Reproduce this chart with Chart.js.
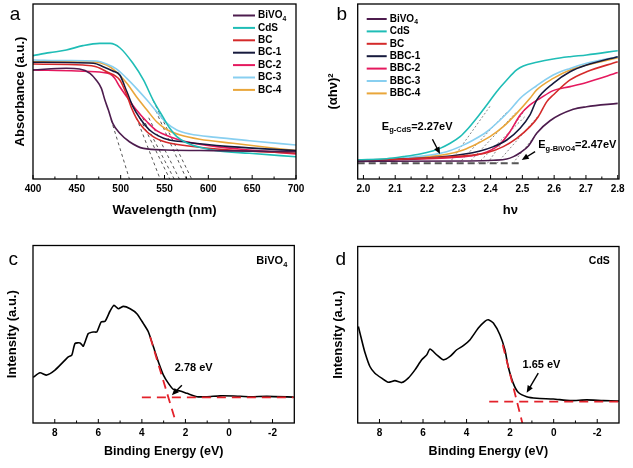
<!DOCTYPE html>
<html><head><meta charset="utf-8">
<script src="https://cdn.jsdelivr.net/npm/chart.js@4.4.0/dist/chart.umd.min.js"></script>
<style>
html,body{margin:0;padding:0;background:#fff;}
#wrap{position:relative;width:633px;height:468px;overflow:hidden;background:#fff;}
canvas{position:absolute;}
</style></head><body>
<div id="wrap">
<canvas id="ca" width="316" height="230" style="left:0;top:0;width:316px;height:230px"></canvas>
<canvas id="cb" width="316" height="230" style="left:317px;top:0;width:316px;height:230px"></canvas>
<canvas id="cc" width="316" height="238" style="left:0;top:230px;width:316px;height:238px"></canvas>
<canvas id="cd" width="316" height="238" style="left:317px;top:230px;width:316px;height:238px"></canvas>
</div>
<script>
// ================= DATA =================
// ---- Panel a : UV-vis absorbance (a.u.) vs wavelength (nm)
const aWavelengthTicks = [400, 450, 500, 550, 600, 650, 700];
const aMinorTicks = [425, 475, 525, 575, 625, 675];
const aSeriesNames = ['BiVO₄', 'CdS', 'BC', 'BC-1', 'BC-2', 'BC-3', 'BC-4'];
const aWl_BiVO4 = [400, 438, 453, 465, 472, 478, 482, 486, 491, 499, 510, 526, 552, 609, 700];
const aAbs_BiVO4 = [0.623, 0.633, 0.629, 0.604, 0.566, 0.518, 0.451, 0.394, 0.318, 0.261, 0.213, 0.175, 0.166, 0.162, 0.156];
const aWl_CdS = [400, 419, 438, 457, 476, 488, 499, 514, 526, 537, 548, 556, 564, 575, 590, 609, 647, 700];
const aAbs_CdS = [0.705, 0.722, 0.737, 0.762, 0.775, 0.775, 0.750, 0.661, 0.566, 0.451, 0.356, 0.290, 0.242, 0.207, 0.181, 0.162, 0.147, 0.127];
const aWl_BC = [400, 457, 472, 484, 499, 507, 512.5, 518, 526, 537, 552, 575, 625, 700];
const aAbs_BC = [0.657, 0.651, 0.642, 0.613, 0.566, 0.480, 0.404, 0.347, 0.290, 0.242, 0.210, 0.190, 0.166, 0.147];
const aWl_BC1 = [400, 469, 480, 491, 499, 507, 514, 522, 533, 549, 575, 625, 700];
const aAbs_BC1 = [0.667, 0.661, 0.642, 0.617, 0.594, 0.499, 0.413, 0.347, 0.280, 0.233, 0.210, 0.185, 0.162];
const aWl_BC2 = [400, 450, 480, 488, 493, 499, 507, 518, 530, 541, 556, 575, 609, 647, 700];
const aAbs_BC2 = [0.623, 0.617, 0.609, 0.600, 0.577, 0.527, 0.470, 0.394, 0.327, 0.276, 0.242, 0.213, 0.185, 0.166, 0.143];
const aWl_BC3 = [400, 438, 472, 484, 495, 507, 518, 530, 541, 552, 564, 579, 609, 647, 700];
const aAbs_BC3 = [0.680, 0.677, 0.674, 0.657, 0.629, 0.575, 0.518, 0.451, 0.385, 0.322, 0.280, 0.257, 0.238, 0.219, 0.194];
const aWl_BC4 = [400, 438, 469, 484, 495, 507, 518, 530, 541, 552, 568, 590, 628, 700];
const aAbs_BC4 = [0.670, 0.670, 0.669, 0.651, 0.613, 0.547, 0.470, 0.394, 0.327, 0.284, 0.251, 0.227, 0.204, 0.162];
// tangent (band-edge) extrapolations: start point on curve -> x-axis intercept
const aTangentStartWl = [489, 518, 522, 525, 532, 540, 537];
const aTangentStartAbs = [0.34, 0.35, 0.347, 0.35, 0.35, 0.39, 0.45];
const aTangentInterceptWl = [510, 545, 556, 561, 567, 575, 581];

// ---- Panel b : Tauc plot (αhν)² vs hν
const bHvTicks = [2.0, 2.1, 2.2, 2.3, 2.4, 2.5, 2.6, 2.7, 2.8];
const bMinorTicks = [2.05, 2.15, 2.25, 2.35, 2.45, 2.55, 2.65, 2.75];
const bSeriesNames = ['BiVO₄', 'CdS', 'BC', 'BBC-1', 'BBC-2', 'BBC-3', 'BBC-4'];
const bHv_BiVO4 = [1.982, 2.335, 2.409, 2.451, 2.472, 2.493, 2.519, 2.545, 2.587, 2.660, 2.702, 2.80];
const bVal_BiVO4 = [0.101, 0.103, 0.107, 0.114, 0.128, 0.150, 0.189, 0.261, 0.333, 0.398, 0.413, 0.432];
const bHv_CdS = [1.982, 2.073, 2.126, 2.178, 2.220, 2.241, 2.273, 2.304, 2.330, 2.356, 2.388, 2.419, 2.451, 2.482, 2.503, 2.545, 2.597, 2.650, 2.702, 2.80];
const bVal_CdS = [0.109, 0.116, 0.128, 0.143, 0.162, 0.175, 0.204, 0.242, 0.290, 0.347, 0.423, 0.499, 0.566, 0.623, 0.646, 0.667, 0.686, 0.699, 0.709, 0.733];
const bHv_BC = [1.982, 2.231, 2.335, 2.388, 2.440, 2.482, 2.524, 2.550, 2.577, 2.597, 2.650, 2.702, 2.80];
const bVal_BC = [0.105, 0.122, 0.135, 0.150, 0.185, 0.232, 0.299, 0.356, 0.442, 0.480, 0.566, 0.613, 0.670];
const bHv_BBC1 = [1.982, 2.231, 2.314, 2.367, 2.409, 2.451, 2.493, 2.524, 2.545, 2.597, 2.650, 2.702, 2.80];
const bVal_BBC1 = [0.105, 0.124, 0.141, 0.160, 0.185, 0.223, 0.290, 0.366, 0.451, 0.547, 0.613, 0.651, 0.699];
const bHv_BBC2 = [1.982, 2.262, 2.335, 2.388, 2.430, 2.461, 2.493, 2.524, 2.556, 2.597, 2.650, 2.702, 2.80];
const bVal_BBC2 = [0.105, 0.120, 0.131, 0.154, 0.200, 0.270, 0.366, 0.423, 0.461, 0.505, 0.528, 0.552, 0.608];
const bHv_BBC3 = [1.982, 2.126, 2.210, 2.262, 2.304, 2.346, 2.388, 2.430, 2.461, 2.493, 2.545, 2.597, 2.650, 2.702, 2.80];
const bVal_BBC3 = [0.107, 0.120, 0.137, 0.156, 0.185, 0.223, 0.270, 0.337, 0.394, 0.461, 0.533, 0.594, 0.632, 0.661, 0.699];
const bHv_BBC4 = [1.982, 2.178, 2.262, 2.314, 2.356, 2.398, 2.440, 2.482, 2.524, 2.545, 2.597, 2.650, 2.702, 2.80];
const bVal_BBC4 = [0.107, 0.124, 0.141, 0.166, 0.200, 0.242, 0.299, 0.375, 0.461, 0.509, 0.575, 0.623, 0.651, 0.693];
const bBaselineHv = [1.982, 2.50];
const bBaselineVal = 0.0895;
const bTangentInterceptHv = [2.27, 2.30, 2.33, 2.36, 2.39, 2.42, 2.47];
const bTangentEndHv = [2.40, 2.45, 2.48, 2.51, 2.51, 2.55, 2.55];
const bTangentEndVal = [0.42, 0.38, 0.38, 0.36, 0.40, 0.36, 0.27];

// ---- Panel c : VB-XPS BiVO4
const cEnergyTicks = [8, 6, 4, 2, 0, -2];
const cMinorTicks = [7, 5, 3, 1, -1];
const cEnergy = [8.99, 8.68, 8.37, 7.99, 7.61, 7.38, 7.22, 7.07, 6.84, 6.69, 6.46, 6.23, 6.07, 5.87, 5.69, 5.46, 5.28, 5.08, 4.85, 4.54, 4.23, 3.93, 3.70, 3.47, 3.24, 3.01, 2.78, 2.55, 2.24, 1.93, 1.47, 1.01, 0.40, -0.21, -0.98, -1.74, -2.97];
const cIntensity = [0.257, 0.283, 0.270, 0.298, 0.344, 0.372, 0.382, 0.448, 0.451, 0.433, 0.504, 0.513, 0.513, 0.569, 0.573, 0.631, 0.663, 0.644, 0.657, 0.644, 0.616, 0.560, 0.513, 0.429, 0.344, 0.270, 0.223, 0.189, 0.180, 0.167, 0.148, 0.148, 0.153, 0.152, 0.148, 0.150, 0.146];
const cBaseE = [4.0, -2.97], cBaseI = [0.144, 0.144];
const cEdgeE = [3.62, 2.43], cEdgeI = [0.485, 0.0];

// ---- Panel d : VB-XPS CdS
const dEnergyTicks = [8, 6, 4, 2, 0, -2];
const dMinorTicks = [7, 5, 3, 1, -1];
const dEnergy = [8.97, 8.82, 8.66, 8.44, 8.21, 7.90, 7.60, 7.29, 6.98, 6.68, 6.37, 6.06, 5.83, 5.68, 5.37, 5.07, 4.76, 4.45, 4.15, 3.84, 3.46, 3.16, 3.00, 2.77, 2.47, 2.24, 2.09, 1.86, 1.63, 1.24, 0.78, 0.02, -0.75, -1.51, -2.28, -3.0];
const dIntensity = [0.547, 0.472, 0.396, 0.320, 0.282, 0.254, 0.231, 0.240, 0.229, 0.254, 0.301, 0.358, 0.386, 0.419, 0.386, 0.358, 0.377, 0.415, 0.438, 0.472, 0.538, 0.576, 0.585, 0.566, 0.500, 0.415, 0.320, 0.226, 0.174, 0.149, 0.140, 0.136, 0.127, 0.131, 0.127, 0.125];
const dBaseE = [2.96, -3.0], dBaseI = [0.121, 0.121];
const dEdgeE = [2.34, 1.44], dEdgeI = [0.443, 0.0];

// ================= STYLE =================
const FONT = "'Liberation Sans', Arial, Helvetica, sans-serif";
Chart.defaults.font.family = FONT;
Chart.defaults.color = '#000';
const seriesColors = ['#4D1C4E', '#1FBDB6', '#D42A2A', '#161A3D', '#E5195E', '#88CFF0', '#E9A63A'];
const RED = '#E3222B';

const pts = (xs, ys) => xs.map((x, i) => ({ x, y: Array.isArray(ys) ? ys[i] : ys }));

function drawRich(ctx, str, x, y, size, align) {
  str = str.replace(/([₀-₉]+)/g, m => '_{' + m.split('').map(c => String.fromCharCode(c.charCodeAt(0) - 0x2080 + 48)).join('') + '}');
  const re = /_\{([^}]*)\}|\^\{([^}]*)\}|([^_^]+)/g;
  const segs = []; let m;
  while ((m = re.exec(str))) {
    if (m[1] !== undefined) segs.push({ t: m[1], s: size * 0.68, dy: size * 0.33 });
    else if (m[2] !== undefined) segs.push({ t: m[2], s: size * 0.68, dy: -size * 0.38 });
    else segs.push({ t: m[3], s: size, dy: 0 });
  }
  ctx.save();
  ctx.fillStyle = '#000'; ctx.textBaseline = 'middle'; ctx.textAlign = 'left';
  let w = 0;
  segs.forEach(g => { ctx.font = `bold ${g.s}px ${FONT}`; g.w = ctx.measureText(g.t).width; w += g.w; });
  let cx = align === 'center' ? x - w / 2 : align === 'right' ? x - w : x;
  segs.forEach(g => { ctx.font = `bold ${g.s}px ${FONT}`; ctx.fillText(g.t, cx, y + g.dy); cx += g.w; });
  ctx.restore();
}

const decor = {
  id: 'decor',
  afterDatasetsDraw(chart, args, o) {
    const { ctx, chartArea: ca } = chart;
    const xs = chart.scales.x, ys = chart.scales.y;
    ctx.save();
    ctx.setLineDash([]);
    ctx.strokeStyle = '#000'; ctx.lineWidth = 1.3;
    ctx.strokeRect(ca.left, ca.top, ca.right - ca.left, ca.bottom - ca.top);
    ctx.lineWidth = 1;
    ctx.beginPath();
    (o.major || []).forEach(v => { const p = xs.getPixelForValue(v); ctx.moveTo(p, ca.bottom); ctx.lineTo(p, ca.bottom - 4); });
    (o.minor || []).forEach(v => { const p = xs.getPixelForValue(v); ctx.moveTo(p, ca.bottom); ctx.lineTo(p, ca.bottom - 2.5); });
    ctx.stroke();
    if (o.legend) {
      let i = 0;
      chart.data.datasets.forEach(ds => {
        if (!ds.label) return;
        const y = o.legend.y + i * o.legend.dy;
        ctx.strokeStyle = ds.borderColor; ctx.lineWidth = 2;
        ctx.beginPath(); ctx.moveTo(o.legend.x, y); ctx.lineTo(o.legend.x + o.legend.len, y); ctx.stroke();
        drawRich(ctx, ds.label, o.legend.x + o.legend.len + 3, y, o.legend.size, 'left');
        i++;
      });
    }
    (o.texts || []).forEach(t => drawRich(ctx, t.s, xs.getPixelForValue(t.x), ys.getPixelForValue(t.y), t.size, t.align));
    (o.pxTexts || []).forEach(t => drawRich(ctx, t.s, t.x, t.y, t.size, t.align));
    (o.arrows || []).forEach(a => {
      const x1 = xs.getPixelForValue(a.x1), y1 = ys.getPixelForValue(a.y1);
      const x2 = xs.getPixelForValue(a.x2), y2 = ys.getPixelForValue(a.y2);
      const ang = Math.atan2(y2 - y1, x2 - x1), L = 7, W = 3;
      ctx.strokeStyle = '#000'; ctx.fillStyle = '#000'; ctx.lineWidth = 1.4;
      ctx.beginPath(); ctx.moveTo(x1, y1); ctx.lineTo(x2 - L * 0.8 * Math.cos(ang), y2 - L * 0.8 * Math.sin(ang)); ctx.stroke();
      ctx.beginPath(); ctx.moveTo(x2, y2);
      ctx.lineTo(x2 - L * Math.cos(ang) + W * Math.sin(ang), y2 - L * Math.sin(ang) - W * Math.cos(ang));
      ctx.lineTo(x2 - L * Math.cos(ang) - W * Math.sin(ang), y2 - L * Math.sin(ang) + W * Math.cos(ang));
      ctx.closePath(); ctx.fill();
    });
    if (o.letter) {
      ctx.font = `19px ${FONT}`; ctx.fillStyle = '#000'; ctx.textAlign = 'center'; ctx.textBaseline = 'middle';
      ctx.fillText(o.letter.s, o.letter.x, o.letter.y);
    }
    ctx.restore();
  }
};

function panel(id, c) {
  return new Chart(document.getElementById(id), {
    type: 'line',
    data: { datasets: c.datasets },
    options: {
      responsive: false, animation: false, devicePixelRatio: 1, events: [],
      layout: { padding: c.pad },
      elements: { point: { radius: 0 }, line: { borderWidth: 1.6, fill: false } },
      plugins: { legend: { display: false }, tooltip: { enabled: false }, decor: c.decor },
      scales: {
        x: {
          type: 'linear', min: c.xmin, max: c.xmax, reverse: !!c.reverse,
          afterBuildTicks: s => { s.ticks = c.xticks.map(v => ({ value: v })); },
          afterFit: s => { s.height = c.xh; },
          ticks: { autoSkip: false, maxRotation: 0, padding: 4, color: '#000', font: { size: 10, weight: 'bold' }, callback: c.xfmt || (v => String(v)) },
          grid: { display: false, drawTicks: false, tickLength: 0 }, border: { display: false },
          title: { display: !!c.xtitle, text: c.xtitle || '', padding: 0, color: '#000', font: { size: c.xtsize || 13, weight: 'bold' } }
        },
        y: {
          type: 'linear', min: 0, max: 1,
          afterFit: s => { s.width = c.yw; },
          ticks: { display: false }, grid: { display: false, drawTicks: false, tickLength: 0 }, border: { display: false },
          title: { display: true, text: c.ytitle, padding: 0, color: '#000', font: { size: 13, weight: 'bold' } }
        }
      }
    },
    plugins: [decor]
  });
}

// ---------- Panel a ----------
const aWl = [aWl_BiVO4, aWl_CdS, aWl_BC, aWl_BC1, aWl_BC2, aWl_BC3, aWl_BC4];
const aAbs = [aAbs_BiVO4, aAbs_CdS, aAbs_BC, aAbs_BC1, aAbs_BC2, aAbs_BC3, aAbs_BC4];
const aSets = aSeriesNames.map((n, i) => ({ label: n, data: pts(aWl[i], aAbs[i]), borderColor: seriesColors[i], cubicInterpolationMode: 'monotone', borderWidth: 1.6 }));
aTangentStartWl.forEach((w, i) => aSets.push({ label: '', data: pts([w, aTangentInterceptWl[i]], [aTangentStartAbs[i], 0]), borderColor: '#555', borderWidth: 1, borderDash: [3, 3] }));
panel('ca', {
  datasets: aSets, pad: { left: 12.2, right: 20, top: 4, bottom: 12.2 }, xh: 38.8, yw: 20.8,
  xmin: 400, xmax: 700, xticks: aWavelengthTicks, xtitle: 'Wavelength (nm)', ytitle: 'Absorbance (a.u.)',
  decor: { major: aWavelengthTicks, minor: aMinorTicks, legend: { x: 233, y: 15.5, dy: 12.4, len: 22, size: 10 }, letter: { s: 'a', x: 15, y: 15 } }
});

// ---------- Panel b ----------
const bHv = [bHv_BiVO4, bHv_CdS, bHv_BC, bHv_BBC1, bHv_BBC2, bHv_BBC3, bHv_BBC4];
const bVal = [bVal_BiVO4, bVal_CdS, bVal_BC, bVal_BBC1, bVal_BBC2, bVal_BBC3, bVal_BBC4];
const bSets = bSeriesNames.map((n, i) => ({ label: n, data: pts(bHv[i], bVal[i]), borderColor: seriesColors[i], cubicInterpolationMode: 'monotone', borderWidth: 1.6 }));
bTangentInterceptHv.forEach((h, i) => bSets.push({ label: '', data: pts([h, bTangentEndHv[i]], [bBaselineVal, bTangentEndVal[i]]), borderColor: '#888', borderWidth: 1, borderDash: [2, 2] }));
bSets.push({ label: '', data: pts(bBaselineHv, bBaselineVal), borderColor: '#555', borderWidth: 2, borderDash: [7, 4] });
panel('cb', {
  datasets: bSets, pad: { left: 8.2, right: 14, top: 4, bottom: 12.2 }, xh: 38.8, yw: 32.5,
  xmin: 1.982, xmax: 2.804, xticks: bHvTicks, xfmt: v => v.toFixed(1), xtitle: '', ytitle: '(αhν)²',
  decor: {
    major: bHvTicks, minor: bMinorTicks, legend: { x: 49.7, y: 19, dy: 12.4, len: 20, size: 10 }, letter: { s: 'b', x: 24.7, y: 15 },
    pxTexts: [{ s: 'hν', x: 193.4, y: 210, size: 13, align: 'center' }],
    texts: [
      { s: 'E_{g-CdS}=2.27eV', x: 2.058, y: 0.299, size: 11, align: 'left' },
      { s: 'E_{g-BiVO4}=2.47eV', x: 2.550, y: 0.194, size: 11, align: 'left' }
    ],
    arrows: [
      { x1: 2.217, y1: 0.227, x2: 2.241, y2: 0.143 },
      { x1: 2.540, y1: 0.156, x2: 2.498, y2: 0.109 }
    ]
  }
});

// ---------- Panel c ----------
panel('cc', {
  datasets: [
    { label: '', data: pts(cBaseE, cBaseI), borderColor: RED, borderWidth: 1.8, borderDash: [9, 6] },
    { label: '', data: pts(cEdgeE, cEdgeI), borderColor: RED, borderWidth: 1.8, borderDash: [9, 6] },
    { label: 'BiVO₄', data: pts(cEnergy, cIntensity), borderColor: '#000', borderWidth: 1.6, tension: 0.2 }
  ],
  pad: { left: 4.5, right: 21.7, top: 15.5, bottom: 8.5 }, xh: 36.5, yw: 28.5,
  xmin: -3, xmax: 9, reverse: true, xticks: cEnergyTicks, xtitle: 'Binding Energy (eV)', xtsize: 12.5, ytitle: 'Intensity (a.u.)',
  decor: {
    major: cEnergyTicks, minor: cMinorTicks, letter: { s: 'c', x: 13.3, y: 29.3 },
    texts: [
      { s: 'BiVO₄', x: -2.68, y: 0.912, size: 11, align: 'right' },
      { s: '2.78 eV', x: 1.62, y: 0.309, size: 11, align: 'center' }
    ],
    arrows: [{ x1: 2.163, y1: 0.213, x2: 2.623, y2: 0.157 }]
  }
});

// ---------- Panel d ----------
panel('cd', {
  datasets: [
    { label: '', data: pts(dBaseE, dBaseI), borderColor: RED, borderWidth: 1.8, borderDash: [9, 6] },
    { label: '', data: pts(dEdgeE, dEdgeI), borderColor: RED, borderWidth: 1.8, borderDash: [9, 6] },
    { label: 'CdS', data: pts(dEnergy, dIntensity), borderColor: '#000', borderWidth: 1.6, tension: 0.2 }
  ],
  pad: { left: 13.5, right: 14, top: 16.5, bottom: 8.5 }, xh: 36.5, yw: 27.2,
  xmin: -3, xmax: 9, reverse: true, xticks: dEnergyTicks, xtitle: 'Binding Energy (eV)', xtsize: 12.5, ytitle: 'Intensity (a.u.)',
  decor: {
    major: dEnergyTicks, minor: dMinorTicks, letter: { s: 'd', x: 23.7, y: 29.3 },
    texts: [
      { s: 'CdS', x: -2.58, y: 0.917, size: 10.5, align: 'right' },
      { s: '1.65 eV', x: 0.56, y: 0.33, size: 11, align: 'center' }
    ],
    arrows: [{ x1: 0.708, y1: 0.282, x2: 1.24, y2: 0.172 }]
  }
});
</script>
</body></html>
